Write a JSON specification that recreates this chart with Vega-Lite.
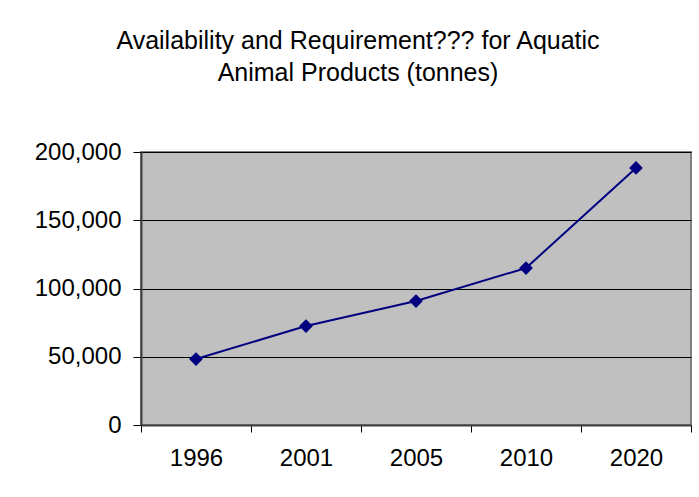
{
  "$schema": "https://vega.github.io/schema/vega-lite/v6.json",
  "width": 550,
  "height": 273,
  "autosize": {"type": "none"},
  "padding": {"left": 141, "top": 152, "right": 8, "bottom": 72},
  "background": "white",
  "title": {
    "text": ["Availability and Requirement??? for Aquatic", "Animal Products (tonnes)"],
    "font": "Liberation Sans",
    "fontSize": 25,
    "fontWeight": "normal",
    "lineHeight": 32,
    "color": "black",
    "anchor": "middle",
    "dx": -58,
    "offset": 54
  },
  "data": {
    "values": [
      {"year": "1996", "tonnes": 48300},
      {"year": "2001", "tonnes": 72500},
      {"year": "2005", "tonnes": 90800},
      {"year": "2010", "tonnes": 115000},
      {"year": "2020", "tonnes": 188300}
    ]
  },
  "encoding": {
    "x": {
      "field": "year",
      "type": "ordinal",
      "scale": {"type": "band", "paddingInner": 0, "paddingOuter": 0},
      "axis": {
        "title": null,
        "labelAngle": 0,
        "tickBand": "extent",
        "ticks": true,
        "tickColor": "black",
        "tickSize": 7,
        "domainColor": "#404040",
        "domainWidth": 2,
        "labelFont": "Liberation Sans",
        "labelFontSize": 24,
        "labelColor": "black",
        "labelPadding": 14,
        "grid": false
      }
    },
    "y": {
      "field": "tonnes",
      "type": "quantitative",
      "scale": {"domain": [0, 200000], "nice": false},
      "axis": {
        "title": null,
        "values": [0, 50000, 100000, 150000, 200000],
        "format": ",.0f",
        "grid": true,
        "gridColor": "black",
        "gridWidth": 1,
        "tickSize": 8,
        "tickColor": "black",
        "domainColor": "#404040",
        "domainWidth": 2,
        "labelFont": "Liberation Sans",
        "labelFontSize": 24,
        "labelColor": "black",
        "labelPadding": 12
      }
    }
  },
  "layer": [
    {"mark": {"type": "line", "color": "#000080", "strokeWidth": 2}},
    {"mark": {"type": "point", "shape": "diamond", "filled": true, "color": "#000080", "size": 190, "opacity": 1}}
  ],
  "config": {
    "view": {"fill": "#C0C0C0", "stroke": "#808080", "strokeWidth": 2}
  }
}
